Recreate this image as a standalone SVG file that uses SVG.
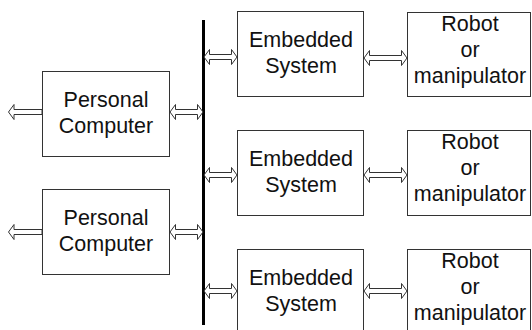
<svg xmlns="http://www.w3.org/2000/svg" width="532" height="330" viewBox="0 0 532 330">
  <style>
    .box { fill: #ffffff; stroke: #333333; stroke-width: 1; }
    .lbl { font-family: "Liberation Sans", Arial, sans-serif; font-size: 21.5px; fill: #111111; text-anchor: middle; }
    .arrow { fill: #ffffff; stroke: #333333; stroke-width: 1; stroke-linejoin: miter; }
    .bus { stroke: #000000; stroke-width: 3; }
  </style>
  <rect width="532" height="330" fill="#ffffff"/>

  <!-- connectors: shared bus and hollow block arrows -->
  <g id="connectors">
    <line class="bus" x1="203.5" y1="20" x2="203.5" y2="325"/>
    <!-- PC outward arrows -->
    <path class="arrow" d="M8.5,112 L14,104.5 L14,109.5 L42,109.5 L42,114.5 L14,114.5 L14,119.5 Z"/>
    <path class="arrow" d="M8.5,232 L14,224.5 L14,229.5 L42,229.5 L42,234.5 L14,234.5 L14,239.5 Z"/>
    <!-- PC to bus -->
    <path class="arrow" d="M170,112 L175.5,104.5 L175.5,109.5 L197.5,109.5 L197.5,104.5 L203,112 L197.5,119.5 L197.5,114.5 L175.5,114.5 L175.5,119.5 Z"/>
    <path class="arrow" d="M170,232 L175.5,224.5 L175.5,229.5 L197.5,229.5 L197.5,224.5 L203,232 L197.5,239.5 L197.5,234.5 L175.5,234.5 L175.5,239.5 Z"/>
    <!-- bus to embedded systems -->
    <path class="arrow" d="M204,57 L209.5,49.5 L209.5,54.5 L231.5,54.5 L231.5,49.5 L237,57 L231.5,64.5 L231.5,59.5 L209.5,59.5 L209.5,64.5 Z"/>
    <path class="arrow" d="M204,175 L209.5,167.5 L209.5,172.5 L231.5,172.5 L231.5,167.5 L237,175 L231.5,182.5 L231.5,177.5 L209.5,177.5 L209.5,182.5 Z"/>
    <path class="arrow" d="M204,291 L209.5,283.5 L209.5,288.5 L231.5,288.5 L231.5,283.5 L237,291 L231.5,298.5 L231.5,293.5 L209.5,293.5 L209.5,298.5 Z"/>
    <!-- embedded systems to robots -->
    <path class="arrow" d="M364,58 L369.5,50.5 L369.5,55.5 L401.5,55.5 L401.5,50.5 L407,58 L401.5,65.5 L401.5,60.5 L369.5,60.5 L369.5,65.5 Z"/>
    <path class="arrow" d="M364,175 L369.5,167.5 L369.5,172.5 L401.5,172.5 L401.5,167.5 L407,175 L401.5,182.5 L401.5,177.5 L369.5,177.5 L369.5,182.5 Z"/>
    <path class="arrow" d="M364,291 L369.5,283.5 L369.5,288.5 L401.5,288.5 L401.5,283.5 L407,291 L401.5,298.5 L401.5,293.5 L369.5,293.5 L369.5,298.5 Z"/>
  </g>

  <g id="pc1">
    <rect class="box" x="42.5" y="71.5" width="127" height="85"/>
    <text class="lbl" x="106" y="107">Personal</text>
    <text class="lbl" x="106" y="133">Computer</text>
  </g>
  <g id="pc2">
    <rect class="box" x="42.5" y="189.5" width="127" height="85"/>
    <text class="lbl" x="106" y="225">Personal</text>
    <text class="lbl" x="106" y="251">Computer</text>
  </g>

  <g id="emb1">
    <rect class="box" x="237.5" y="11.5" width="126" height="85"/>
    <text class="lbl" x="301" y="47">Embedded</text>
    <text class="lbl" x="301" y="73">System</text>
  </g>
  <g id="emb2">
    <rect class="box" x="237.5" y="130.5" width="126" height="85"/>
    <text class="lbl" x="301" y="166">Embedded</text>
    <text class="lbl" x="301" y="192">System</text>
  </g>
  <g id="emb3">
    <rect class="box" x="237.5" y="249.5" width="126" height="85"/>
    <text class="lbl" x="301" y="285">Embedded</text>
    <text class="lbl" x="301" y="311">System</text>
  </g>

  <g id="robot1">
    <rect class="box" x="407.5" y="12.5" width="123" height="84"/>
    <text class="lbl" x="470" y="31">Robot</text>
    <text class="lbl" x="470" y="57">or</text>
    <text class="lbl" x="470" y="83">manipulator</text>
  </g>
  <g id="robot2">
    <rect class="box" x="407.5" y="130.5" width="123" height="85"/>
    <text class="lbl" x="470" y="149">Robot</text>
    <text class="lbl" x="470" y="175">or</text>
    <text class="lbl" x="470" y="201">manipulator</text>
  </g>
  <g id="robot3">
    <rect class="box" x="407.5" y="249.5" width="123" height="85"/>
    <text class="lbl" x="470" y="268">Robot</text>
    <text class="lbl" x="470" y="294">or</text>
    <text class="lbl" x="470" y="320">manipulator</text>
  </g>
</svg>
